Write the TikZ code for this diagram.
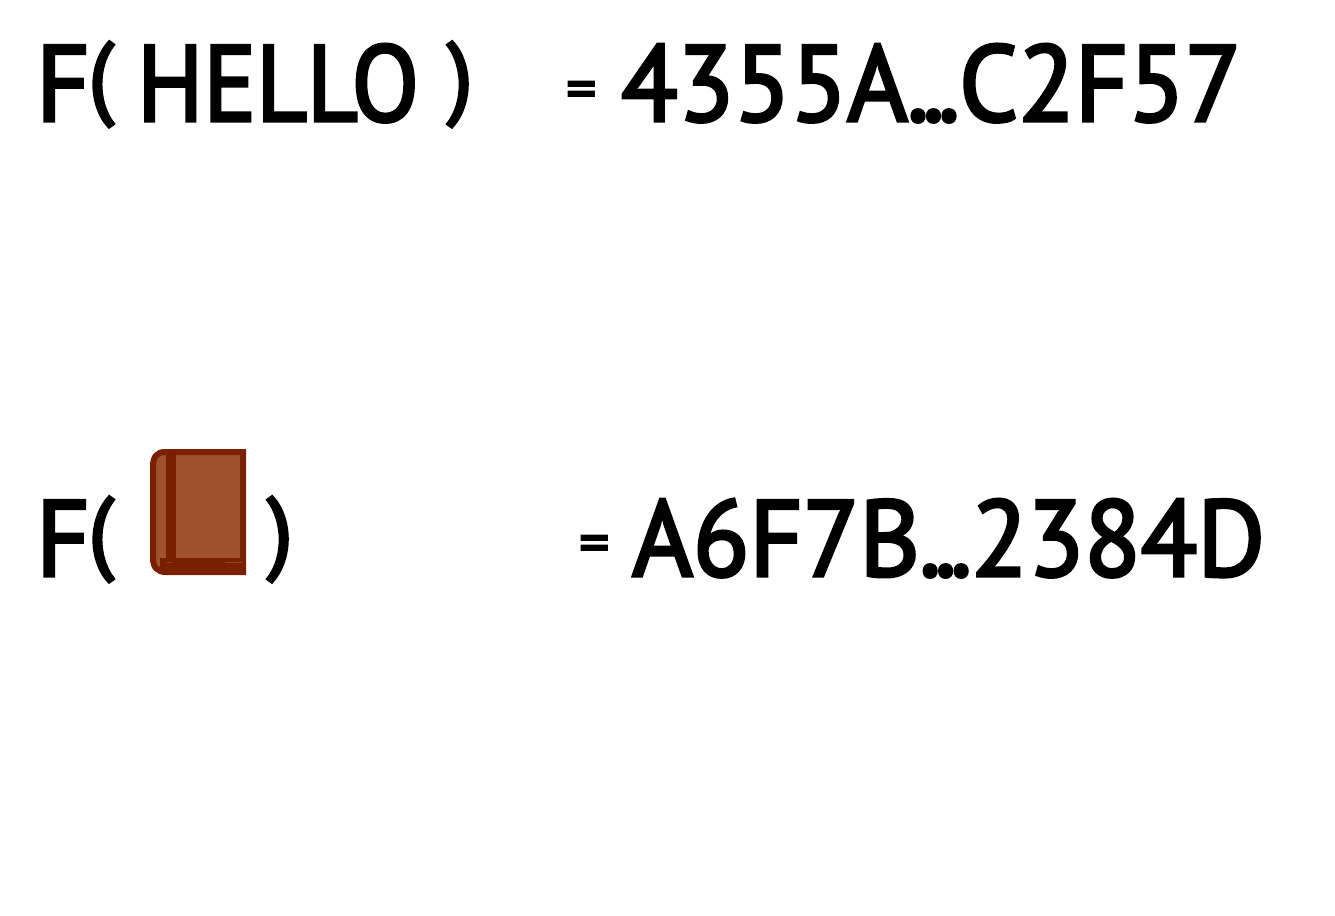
\documentclass[tikz,border=0pt]{standalone}
\usepackage{fontspec}
\setmainfont{PT Sans}[BoldFont={PT Sans},BoldFeatures={FakeBold=3}]
\usetikzlibrary{positioning}
\definecolor{bookfill}{HTML}{A0522D}
\definecolor{bookedge}{HTML}{7A1F00}
\newcommand{\dotrun}{\kern-1pt.\kern-7pt.\kern-7pt.\kern-1pt}
\tikzset{
 bigtext/.style={inner sep=0, anchor=base west, xscale=.96, font=\fontsize{108}{108}\selectfont\bfseries},
 wordtext/.style={bigtext, xscale=.95},
 parentext/.style={inner sep=0, anchor=base west, font=\fontsize{92}{92}\selectfont\bfseries},
 eqtext/.style={inner sep=0, anchor=base west, font=\fontsize{60}{60}\selectfont\bfseries},
}
\begin{document}
\begin{tikzpicture}[x=1pt,y=-1pt]
\useasboundingbox (0,0) rectangle (1335,915);
\node[bigtext] (fa) at (36,121) {F};
\node[parentext] (oa) at (88,107) {(};
\node[wordtext] (hello) at (137,121) {HELLO};
\node[parentext] (ca) at (447,107) {)};
\node[eqtext] (eqa) at (566,109) {=};
\node[bigtext] (hasha) at (621,121) {4355A\dotrun C2F57};
\node[bigtext] (fb) at (36,576) {F};
\node[parentext] (ob) at (88,562) {(};
\node[parentext] (cb) at (267,562) {)};
\node[eqtext] (eqb) at (579,563) {=};
\node[bigtext] (hashb) at (632,576) {A6F7B\dotrun 2384D};
% book
\draw[bookedge, line width=6, fill=bookfill] (165,452) -- (243,452) -- (243,572) -- (166,572) .. controls (157,572) and (153,567) .. (153,558) -- (153,466) .. controls (153,457) and (157,452) .. (165,452) -- cycle;
\draw[bookedge, line width=10] (171,453) -- (171,562);
\draw[bookedge, line width=14] (160,565) -- (245,565);
\draw[bookfill!70!bookedge, line width=1] (225,562) -- (242,562);
\draw[bookfill!70!bookedge, line width=1] (167,562) -- (172,562);
\end{tikzpicture}
\end{document}
